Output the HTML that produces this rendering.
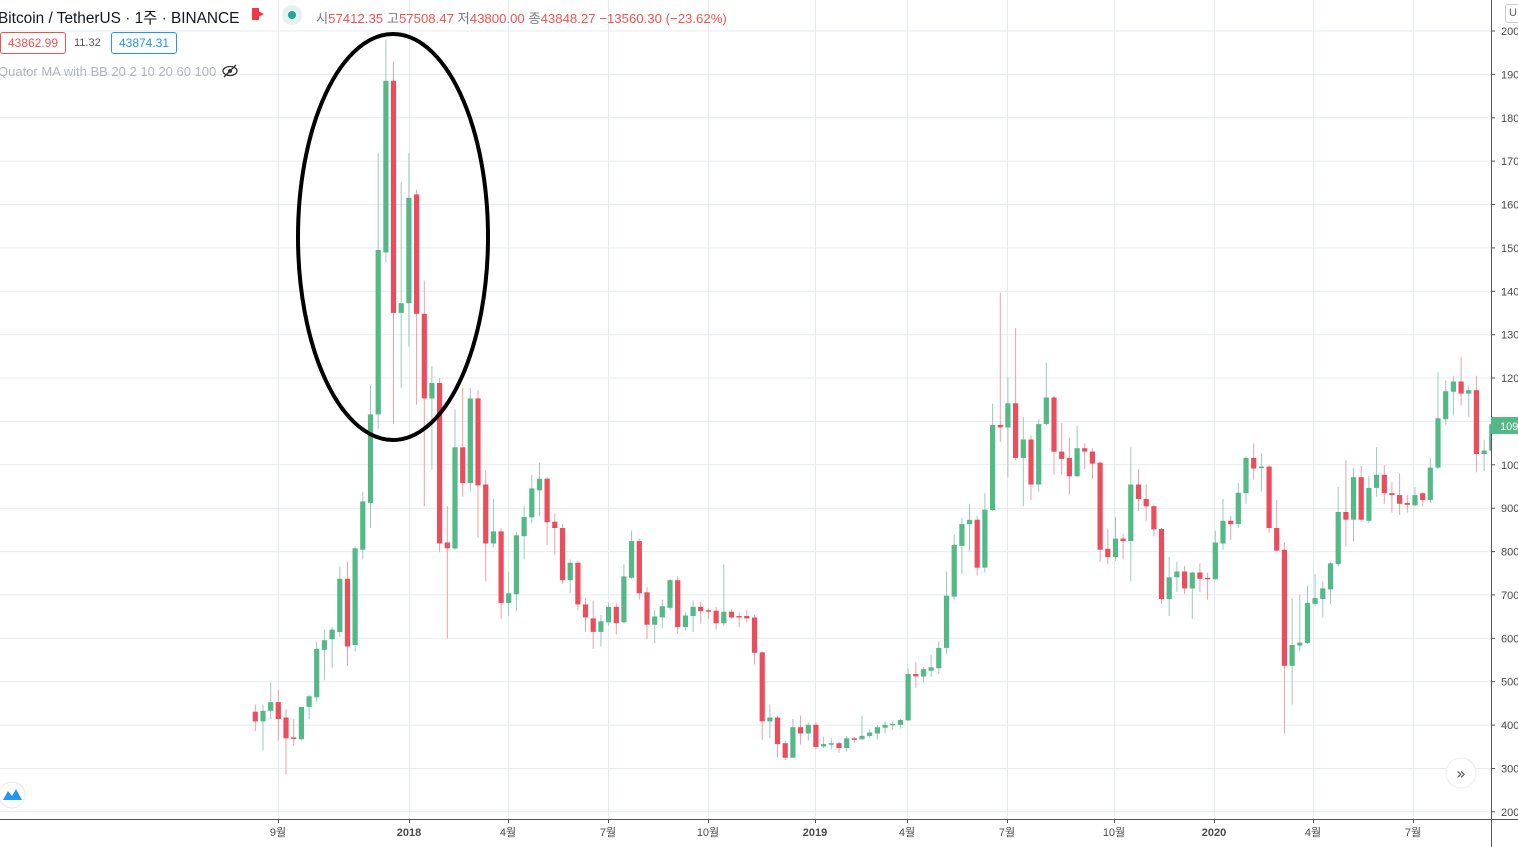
<!DOCTYPE html>
<html><head><meta charset="utf-8"><style>
html,body{margin:0;padding:0;background:#fff;width:1518px;height:847px;overflow:hidden;font-family:"Liberation Sans","Noto Sans CJK KR",sans-serif}
.t{position:absolute;white-space:nowrap}
</style></head><body>
<svg id="s" width="1518" height="847" style="position:absolute;left:0;top:0" xmlns="http://www.w3.org/2000/svg"></svg>
<div class="t" style="left:-2px;top:6px;font-size:15.4px;color:#131722">Bitcoin / TetherUS · 1주 · BINANCE</div>
<div class="t" style="left:252px;top:8px;width:0;height:0;border-left:12px solid #f23645;border-top:6px solid transparent;border-bottom:6px solid transparent;"></div>
<div class="t" style="left:252px;top:8px;width:7px;height:12px;background:#f23645"></div>
<div class="t" style="left:282px;top:5px;width:20px;height:20px;border-radius:50%;background:#e4f2ef"></div>
<div class="t" style="left:288px;top:11px;width:8px;height:8px;border-radius:50%;background:#26a69a"></div>
<div class="t" style="left:316px;top:8px;font-size:13.2px;color:#ef5350"><span style="color:#787b86">시</span>57412.35 <span style="color:#787b86">고</span>57508.47 <span style="color:#787b86">저</span>43800.00 <span style="color:#787b86">종</span>43848.27 −13560.30 (−23.62%)</div>
<div class="t" style="left:0;top:32px;height:20px;width:64px;border:1px solid #ef5350;border-radius:3px;color:#ef5350;font-size:12px;line-height:20px;text-align:center;background:#fff">43862.99</div>
<div class="t" style="left:74px;top:37px;font-size:11px;color:#555">11.32</div>
<div class="t" style="left:111px;top:32px;height:20px;width:64px;border:1px solid #2196f3;border-radius:3px;color:#2196f3;font-size:12px;line-height:20px;text-align:center;background:#fff">43874.31</div>
<div class="t" style="left:-2px;top:64px;font-size:13px;color:#b2b5be">Quator MA with BB 20 2 10 20 60 100</div>
<div class="t" style="left:1505px;top:4px;width:16px;height:17px;border:1px solid #ccc;border-radius:3px;font-size:11px;color:#666;line-height:17px;padding-left:3px">U</div>
<script>
var S=document.getElementById('s'),h='';
function Y(p){return 31+(20000-p)*0.04338;}
for(var p=2000;p<=20000;p+=1000){var y=Y(p).toFixed(1);h+='<line x1="0" x2="1491" y1="'+y+'" y2="'+y+'" stroke="#e6ebef" stroke-width="1"/>';}
var xl=[[278,'9월'],[409,'2018'],[508,'4월'],[608,'7월'],[708,'10월'],[815,'2019'],[907,'4월'],[1007,'7월'],[1114,'10월'],[1214,'2020'],[1313,'4월'],[1413,'7월']];
xl.forEach(function(a){h+='<line x1="'+(a[0]+0.5)+'" x2="'+(a[0]+0.5)+'" y1="0" y2="819" stroke="#e6ebef"/>';});
var D=[
'R 1410 1430 1395 1450','G 1408 1430 1395 1490','G 1390 1408 1350 1425','R 1390 1425 1365 1470','R 1422 1465 1405 1540','R 1463 1466 1425 1480','G 1400 1467 1400 1470','G 1378 1400 1375 1425','G 1280 1380 1265 1390','G 1262 1282 1240 1345',
'G 1240 1260 1235 1320','G 1135 1245 1110 1255','R 1135 1275 1100 1315','G 1072 1272 1068 1285','G 975 1075 955 1095','G 795 978 735 1030','G 455 795 255 825','G 105 460 20 480','R 105 585 65 815','G 565 585 315 740',
'G 347 565 255 655','R 340 587 330 775','R 587 762 518 985','G 730 762 695 910','R 730 1062 720 1080','R 1060 1072 985 1258','G 863 1072 785 1075','R 863 937 740 965','G 762 937 740 955','R 762 942 745 1050',
'R 940 1062 910 1140','G 1037 1062 970 1070','R 1037 1185 1030 1218','G 1165 1185 1120 1212','G 1045 1167 1038 1202','G 1007 1047 985 1095','G 948 1008 920 1020','G 928 952 895 1005','R 928 1018 925 1065','R 1017 1030 1000 1085',
'R 1030 1138 1022 1145','G 1102 1138 1095 1165','R 1102 1188 1098 1200','R 1188 1215 1175 1245','R 1217 1245 1180 1280','G 1223 1245 1210 1275','G 1193 1225 1185 1232','R 1193 1227 1185 1250','G 1130 1225 1105 1228','G 1057 1133 1035 1135',
'R 1057 1165 1052 1178','R 1163 1230 1152 1260','G 1213 1230 1200 1268','G 1192 1215 1178 1237','G 1138 1195 1135 1200','R 1138 1235 1130 1248','G 1211 1235 1205 1242','G 1193 1212 1180 1245','R 1193 1202 1183 1228','R 1200 1202 1195 1218',
'R 1201 1227 1193 1240','G 1203 1227 1105 1232','R 1203 1215 1198 1218','R 1212 1214 1205 1235','R 1212 1217 1200 1225','R 1215 1288 1210 1312','R 1287 1430 1285 1468','G 1422 1430 1395 1465','R 1422 1477 1418 1505','R 1475 1505 1470 1510',
'G 1442 1505 1425 1505','R 1442 1455 1418 1478','G 1437 1455 1432 1470','R 1437 1483 1432 1487','G 1477 1482 1462 1485','G 1475 1478 1465 1488','R 1475 1485 1472 1495','G 1465 1485 1460 1492','R 1465 1467 1462 1475','G 1460 1467 1418 1468',
'G 1453 1460 1445 1465','G 1442 1455 1438 1467','G 1437 1443 1430 1455','G 1435 1437 1430 1447','G 1427 1437 1425 1445','G 1332 1428 1320 1430','R 1332 1337 1308 1360','G 1322 1337 1318 1350','G 1318 1325 1292 1338','G 1278 1320 1265 1332',
'G 1170 1278 1120 1290','G 1065 1172 1043 1180','G 1022 1067 1010 1125','G 1013 1022 980 1078','R 1013 1112 1005 1128','G 992 1112 958 1122','G 817 993 773 995','R 817 822 543 852','G 772 822 718 925','R 772 885 617 890',
'G 847 885 800 985','R 847 940 838 972','G 815 940 805 955','G 760 815 688 818','R 760 872 757 920','R 872 887 813 920','R 885 923 843 960','G 865 923 818 925','R 865 872 855 908','R 872 897 865 928',
'R 895 1075 893 1100','R 1073 1090 1032 1105','G 1052 1090 1007 1098','R 1052 1057 1042 1095','G 940 1057 863 1140','R 940 970 908 995','R 970 985 940 1015','R 985 1033 982 1047','R 1032 1177 1030 1187','G 1132 1177 1090 1212',
'G 1120 1132 1100 1162','R 1120 1155 1108 1167','G 1122 1155 1120 1218','R 1122 1135 1103 1162','R 1133 1136 1122 1178','G 1060 1136 1035 1137','G 1015 1062 970 1075','R 1015 1022 1005 1055','G 957 1022 937 1030','G 885 958 882 980',
'R 885 907 855 930','G 903 906 875 955','R 903 1030 900 1040','R 1030 1077 972 1077','R 1075 1315 1060 1455','G 1272 1315 1175 1395','G 1267 1273 1168 1285','G 1185 1268 1150 1270','G 1175 1187 1125 1192','G 1155 1177 1140 1215',
'G 1103 1157 1100 1188','G 997 1105 945 1110','R 997 1013 890 1068','G 925 1013 905 1058','R 925 1013 902 1017','G 947 1015 922 1020','G 920 947 863 965','R 920 958 900 980','R 958 962 935 998','R 962 980 917 1003',
'R 978 982 962 998','G 962 983 945 985','R 958 972 957 985','G 905 972 885 977','G 803 905 708 908','G 747 805 725 817','G 727 748 715 797','R 727 752 677 777','G 745 752 735 800','R 745 877 715 915',
'G 870 877 847 912','G 815 870 800 880'];
function Z(v){return 30+v*0.4835;}
h+='<clipPath id="c"><rect x="0" y="0" width="1491" height="819"/></clipPath><g clip-path="url(#c)">';
D.forEach(function(r,i){var a=r.split(' '),g=a[0]=='G',x=255.3+i*7.68;
var bt=Z(+a[1]),bb=Z(+a[2]),wt=Z(+a[3]),wb=Z(+a[4]);if(bb-bt<1.5)bb=bt+1.5;
var wc=g?'#9cc9bc':'#eba1aa',bc=g?'#53b987':'#eb4d5c';
h+='<line x1="'+x.toFixed(1)+'" x2="'+x.toFixed(1)+'" y1="'+wt.toFixed(1)+'" y2="'+wb.toFixed(1)+'" stroke="'+wc+'" stroke-width="1"/>';
h+='<rect x="'+(x-2.6).toFixed(1)+'" y="'+bt.toFixed(1)+'" width="5.2" height="'+(bb-bt).toFixed(1)+'" fill="'+bc+'"/>';});
h+='</g>';
h+='<ellipse cx="393" cy="237" rx="95" ry="203" fill="none" stroke="#000" stroke-width="4"/>';
h+='<line x1="1491.5" x2="1491.5" y1="0" y2="847" stroke="#555" stroke-width="1"/>';
h+='<line x1="0" x2="1518" y1="819.5" y2="819.5" stroke="#555" stroke-width="1"/>';
for(var p=2000;p<=20000;p+=1000){var y=Y(p);h+='<line x1="1491" x2="1495" y1="'+y.toFixed(1)+'" y2="'+y.toFixed(1)+'" stroke="#555"/>';
h+='<text x="1501" y="'+(y+4).toFixed(1)+'" font-size="11" fill="#4a4a4a" font-family="Liberation Sans">'+p+'</text>';}
xl.forEach(function(a){h+='<line x1="'+(a[0]+0.5)+'" x2="'+(a[0]+0.5)+'" y1="819" y2="823" stroke="#555"/><text x="'+a[0]+'" y="836" text-anchor="middle" font-size="11" fill="#4a4a4a" font-weight="'+(a[1].length==4&&a[1][0]=='2'?'bold':'normal')+'" font-family="Liberation Sans, Noto Sans CJK KR, sans-serif">'+a[1]+'</text>';});
h+='<rect x="1491" y="417" width="27" height="17" fill="#53b987"/><text x="1500" y="430" font-size="11" fill="#fff" font-family="Liberation Sans">10906</text>';
h+='<circle cx="1461" cy="773" r="15" fill="#fff" stroke="#eee"/><text x="1461" y="779" text-anchor="middle" font-size="16" fill="#555" font-family="DejaVu Sans">»</text>';
h+='<circle cx="12" cy="795" r="13" fill="#fff" stroke="#e8e8e8"/><path d="M3 800 L8 791 L12 796 L16 789 L22 800 Z" fill="#2196f3"/>';
h+='<ellipse cx="230" cy="71" rx="7" ry="4.5" fill="none" stroke="#333" stroke-width="1.3"/><circle cx="230" cy="71" r="2" fill="#333"/><line x1="224" y1="77" x2="236" y2="65" stroke="#333" stroke-width="1.3"/>';
S.innerHTML=h;
</script>
</body></html>
